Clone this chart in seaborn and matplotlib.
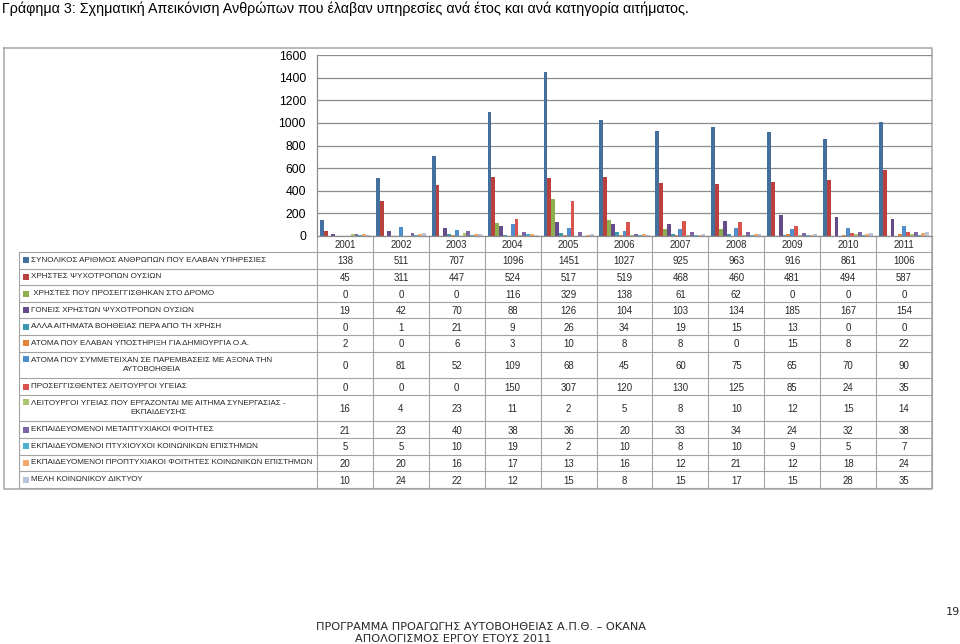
import numpy as np
import pandas as pd
import matplotlib
matplotlib.use("Agg")
import matplotlib.pyplot as plt
from matplotlib.transforms import blended_transform_factory
import seaborn as sns

# ---------------- data ----------------
years = ["2001", "2002", "2003", "2004", "2005", "2006", "2007", "2008", "2009", "2010", "2011"]

categories = [
    "ΣΥΝΟΛΙΚΟΣ ΑΡΙΘΜΟΣ ΑΝΘΡΩΠΩΝ ΠΟΥ ΕΛΑΒΑΝ ΥΠΗΡΕΣΙΕΣ",
    "ΧΡΗΣΤΕΣ ΨΥΧΟΤΡΟΠΩΝ ΟΥΣΙΩΝ",
    " ΧΡΗΣΤΕΣ ΠΟΥ ΠΡΟΣΕΓΓΙΣΘΗΚΑΝ ΣΤΟ ΔΡΟΜΟ",
    "ΓΟΝΕΙΣ ΧΡΗΣΤΩΝ ΨΥΧΟΤΡΟΠΩΝ ΟΥΣΙΩΝ",
    "ΑΛΛΑ ΑΙΤΗΜΑΤΑ ΒΟΗΘΕΙΑΣ ΠΕΡΑ ΑΠΟ ΤΗ ΧΡΗΣΗ",
    "ΑΤΟΜΑ ΠΟΥ ΕΛΑΒΑΝ ΥΠΟΣΤΗΡΙΞΗ ΓΙΑ ΔΗΜΙΟΥΡΓΙΑ Ο.Α.",
    "ΑΤΟΜΑ ΠΟΥ ΣΥΜΜΕΤΕΙΧΑΝ ΣΕ ΠΑΡΕΜΒΑΣΕΙΣ ΜΕ ΑΞΟΝΑ ΤΗΝ\nΑΥΤΟΒΟΗΘΕΙΑ",
    "ΠΡΟΣΕΓΓΙΣΘΕΝΤΕΣ ΛΕΙΤΟΥΡΓΟΙ ΥΓΕΙΑΣ",
    "ΛΕΙΤΟΥΡΓΟΙ ΥΓΕΙΑΣ ΠΟΥ ΕΡΓΑΖΟΝΤΑΙ ΜΕ ΑΙΤΗΜΑ ΣΥΝΕΡΓΑΣΙΑΣ -\nΕΚΠΑΙΔΕΥΣΗΣ",
    "ΕΚΠΑΙΔΕΥΟΜΕΝΟΙ ΜΕΤΑΠΤΥΧΙΑΚΟΙ ΦΟΙΤΗΤΕΣ",
    "ΕΚΠΑΙΔΕΥΟΜΕΝΟΙ ΠΤΥΧΙΟΥΧΟΙ ΚΟΙΝΩΝΙΚΩΝ ΕΠΙΣΤΗΜΩΝ",
    "ΕΚΠΑΙΔΕΥΟΜΕΝΟΙ ΠΡΟΠΤΥΧΙΑΚΟΙ ΦΟΙΤΗΤΕΣ ΚΟΙΝΩΝΙΚΩΝ ΕΠΙΣΤΗΜΩΝ",
    "ΜΕΛΗ ΚΟΙΝΩΝΙΚΟΥ ΔΙΚΤΥΟΥ",
]

total_people      = [138, 511, 707, 1096, 1451, 1027, 925, 963, 916, 861, 1006]
drug_users        = [45, 311, 447, 524, 517, 519, 468, 460, 481, 494, 587]
street_users      = [0, 0, 0, 116, 329, 138, 61, 62, 0, 0, 0]
parents           = [19, 42, 70, 88, 126, 104, 103, 134, 185, 167, 154]
other_requests    = [0, 1, 21, 9, 26, 34, 19, 15, 13, 0, 0]
selfhelp_support  = [2, 0, 6, 3, 10, 8, 8, 0, 15, 8, 22]
selfhelp_interv   = [0, 81, 52, 109, 68, 45, 60, 75, 65, 70, 90]
health_approached = [0, 0, 0, 150, 307, 120, 130, 125, 85, 24, 35]
health_cooperate  = [16, 4, 23, 11, 2, 5, 8, 10, 12, 15, 14]
postgrad          = [21, 23, 40, 38, 36, 20, 33, 34, 24, 32, 38]
graduates         = [5, 5, 10, 19, 2, 10, 8, 10, 9, 5, 7]
undergrad         = [20, 20, 16, 17, 13, 16, 12, 21, 12, 18, 24]
network_members   = [10, 24, 22, 12, 15, 8, 15, 17, 15, 28, 35]

series_values = [total_people, drug_users, street_users, parents, other_requests,
                 selfhelp_support, selfhelp_interv, health_approached, health_cooperate,
                 postgrad, graduates, undergrad, network_members]

colors = ["#44709F", "#B8413E", "#8FAE4E", "#654B8A", "#3E97AE", "#E5843B",
          "#4F8FD0", "#D9534F", "#A8C56E", "#7E66A6", "#4BB1D1", "#F5A76A", "#B8C4DC"]

title = ("Γράφημα 3: Σχηματική Απεικόνιση Ανθρώπων που έλαβαν υπηρεσίες ανά έτος "
         "και ανά κατηγορία αιτήματος.")
footer1 = "ΠΡΟΓΡΑΜΜΑ ΠΡΟΑΓΩΓΗΣ ΑΥΤΟΒΟΗΘΕΙΑΣ Α.Π.Θ. – ΟΚΑΝΑ"
footer2 = "ΑΠΟΛΟΓΙΣΜΟΣ ΕΡΓΟΥ ΕΤΟΥΣ 2011"
page_no = "19"

# ---------------- figure ----------------
sns.set_theme(style="white")
plt.rcParams["font.family"] = ["Liberation Sans", "DejaVu Sans"]

W, H = 960, 644
fig = plt.figure(figsize=(W / 100, H / 100), dpi=100)
fig.patch.set_facecolor("white")

bg = fig.add_axes([0, 0, 1, 1])
bg.set_xlim(0, W)
bg.set_ylim(H, 0)
bg.axis("off")

L, R, T, B = 317, 932, 55, 236
ax = fig.add_axes([L / W, 1 - B / H, (R - L) / W, (B - T) / H])
ax.set_facecolor("none")

df = pd.DataFrame({c: v for c, v in zip(categories, series_values)}, index=years)
long = df.reset_index().melt(id_vars="index", var_name="cat", value_name="value")
long = long.rename(columns={"index": "year"})

sns.barplot(data=long, x="year", y="value", hue="cat", order=years,
            hue_order=categories, palette=colors, width=13 / 14.5,
            saturation=1, linewidth=0, errorbar=None, legend=False, ax=ax)

ax.set_xlim(-0.5, len(years) - 0.5)
ax.set_ylim(0, 1600)
ax.set_yticks(np.arange(0, 1601, 200))
ax.set_xticks([])
ax.set_xlabel("")
ax.set_ylabel("")
ax.grid(axis="y", color="#8C8C8C", lw=0.9)
ax.set_axisbelow(True)
ax.tick_params(axis="y", length=0, pad=8, labelsize=8.8, labelcolor="black")
for s in ("top", "right"):
    ax.spines[s].set_visible(False)
for s in ("left", "bottom"):
    ax.spines[s].set_color("#8C8C8C")
    ax.spines[s].set_linewidth(0.9)

renderer = fig.canvas.get_renderer()


def fit(t, target):
    w = t.get_window_extent(renderer).width
    t.set_fontsize(t.get_fontsize() * target / w)


# title
tt = bg.text(2, 12.5, title, ha="left", va="baseline", fontsize=10.5, color="black")
fit(tt, 688)

# outer chart box
box_c = "#A6A6A6"
bg.plot([4, 932, 932, 4, 4], [48, 48, 489, 489, 48], color=box_c, lw=1.1, zorder=0)

# table
line_c = "#A3A3A3"
row_h = [26.6 if "\n" in c else 16.6 for c in categories]
edges = [252.0]
for h in row_h:
    edges.append(edges[-1] + h)
tbl_bottom = edges[-1]

bt = blended_transform_factory(ax.transData, bg.transData)
for e in edges:
    bg.plot([19, 932], [e, e], color=line_c, lw=0.8, zorder=1)
bg.plot([19, 19], [252, tbl_bottom], color=line_c, lw=0.8, zorder=1)
for j in range(len(years) + 1):
    bg.plot([j - 0.5, j - 0.5], [B, tbl_bottom], color=line_c, lw=0.8,
            transform=bt, zorder=1)

num_fs = 6.9
for j, yr in enumerate(years):
    bg.text(j, (B + 252) / 2, yr, ha="center", va="center_baseline",
            fontsize=num_fs, transform=bt)

label_texts = []
for i, (cat, vals, col) in enumerate(zip(categories, series_values, colors)):
    yc = (edges[i] + edges[i + 1]) / 2
    two = "\n" in cat
    ky = yc - 6.3 if two else yc
    bg.add_patch(plt.Rectangle((23, ky - 3), 6, 6, color=col, lw=0))
    t = bg.text(31, yc, cat, ha="left", va="center", multialignment="center",
                fontsize=6.6, linespacing=1.45)
    label_texts.append(t)
    for j, v in enumerate(vals):
        bg.text(j, yc, str(v), ha="center", va="center_baseline",
                fontsize=num_fs, transform=bt)

# fit label font size so the longest label matches the reference width
longest = label_texts[11]
w = longest.get_window_extent(renderer).width
scale = 282 / w
for t in label_texts:
    t.set_fontsize(t.get_fontsize() * scale)

# footer
f1 = bg.text(316, 630.5, footer1, ha="left", va="baseline", fontsize=9,
             family=["DejaVu Sans"])
fit(f1, 329)
bg.text(355, 642.5, footer2, ha="left", va="baseline", fontsize=f1.get_fontsize(),
        family=["DejaVu Sans"])
bg.text(953, 615, page_no, ha="center", va="baseline", fontsize=f1.get_fontsize(),
        family=["DejaVu Sans"])

fig.savefig("out.png", dpi=100, facecolor="white")
